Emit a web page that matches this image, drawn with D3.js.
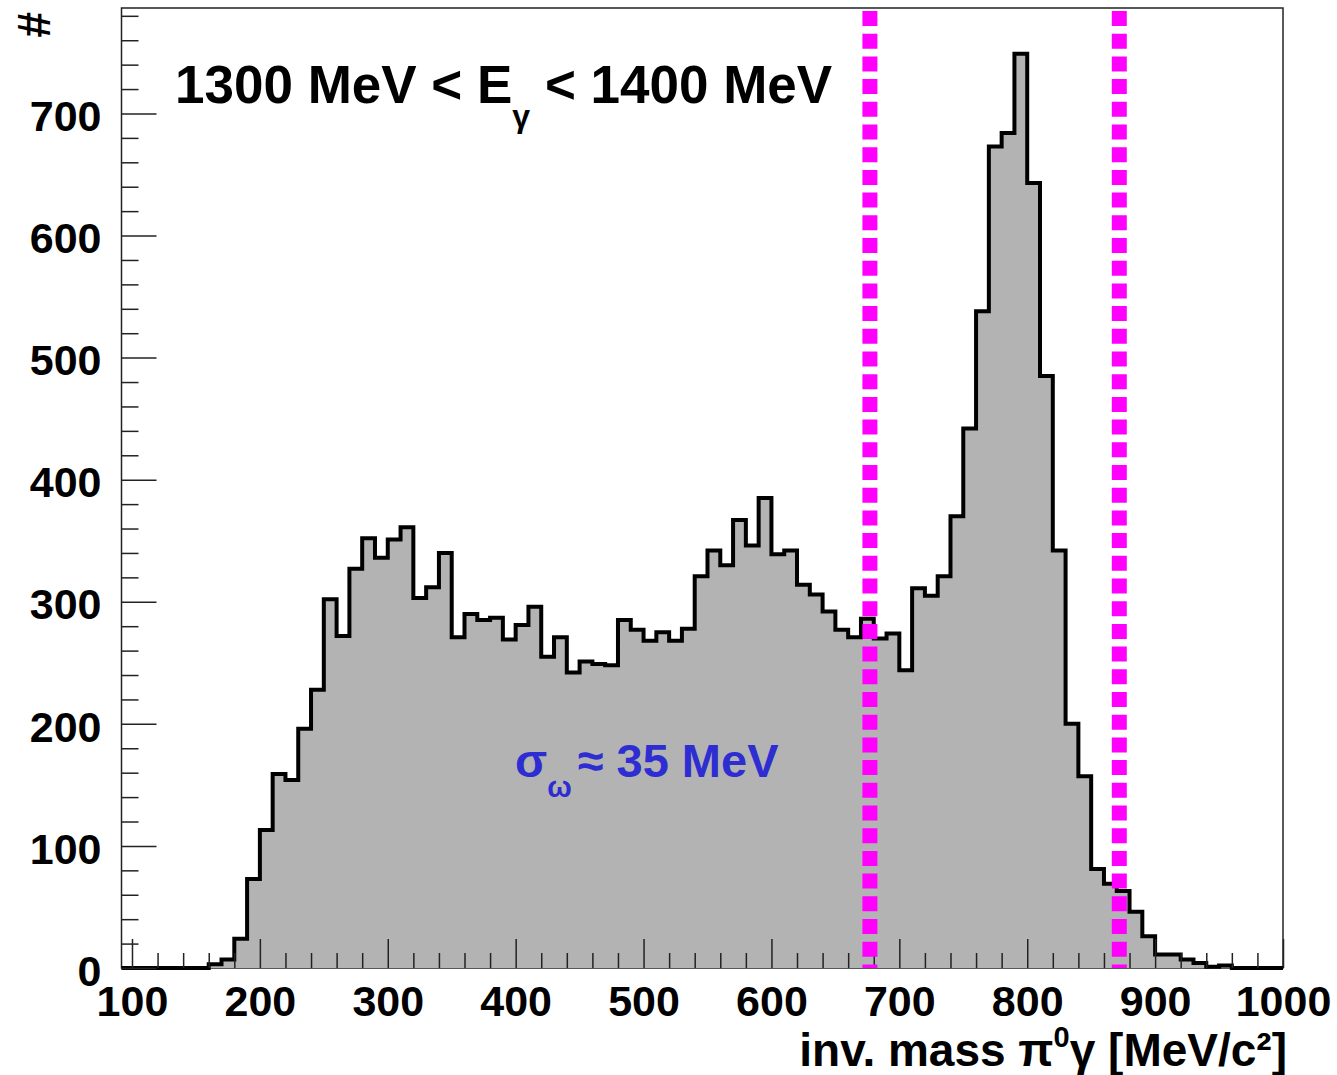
<!DOCTYPE html>
<html>
<head>
<meta charset="utf-8">
<script src="https://cdn.jsdelivr.net/npm/d3@7"></script>
<style>
  body { margin: 0; background: #fff; }
  text { font-family: "Liberation Sans", Arial, sans-serif; font-weight: bold; }
</style>
</head>
<body>
<svg id="chart" width="1337" height="1075"></svg>
<script>
// histogram: 10 MeV bins, first bin starts at 90 MeV
var binStart = 90
var binWidth = 10
var counts = [
  0, 0, 0, 0, 0, 0, 0, 3, 7, 24,            // 90 - 190
  73, 113, 159, 154, 196, 228, 302, 272, 327, 352,   // 190 - 290
  336, 351, 361, 303, 312, 340, 271, 290, 285, 287,  // 290 - 390
  269, 281, 296, 255, 271, 242, 251, 249, 248, 285,  // 390 - 490
  277, 268, 275, 268, 278, 321, 342, 330, 367, 346,  // 490 - 590
  385, 339, 342, 314, 306, 292, 277, 271, 286, 270,  // 590 - 690
  274, 244, 311, 305, 321, 370, 442, 538, 673, 684,  // 690 - 790
  749, 643, 485, 342, 200, 157, 81, 69, 63, 46,      // 790 - 890
  26, 11, 11, 7, 4, 1, 2, 0, 0, 0, 0                 // 890 - 1000
]
var cutLines = [677, 872]   // magenta selection window
var xMajor = [100, 200, 300, 400, 500, 600, 700, 800, 900, 1000]
var yMajor = [0, 100, 200, 300, 400, 500, 600, 700]

var frame = {left: 121.5, right: 1283, top: 8, bottom: 968}

var x = d3.scaleLinear().domain([91.8, 1000]).range([frame.left, frame.right])
var y = d3.scaleLinear().domain([0, 786.4]).range([frame.bottom, frame.top])

var svg = d3.select("#chart")

svg.append("defs").append("clipPath").attr("id", "clip")
  .append("rect")
    .attr("x", frame.left).attr("y", frame.top)
    .attr("width", frame.right - frame.left)
    .attr("height", frame.bottom - frame.top + 3)

svg.append("rect")
    .attr("x", frame.left).attr("y", frame.top)
    .attr("width", frame.right - frame.left)
    .attr("height", frame.bottom - frame.top)
    .attr("fill", "#fff")
    .attr("stroke", "#222")
    .attr("stroke-width", 1.5)

// step outline points
var pts = []
counts.forEach(function(c, i) {
  var lo = binStart + i * binWidth
  pts.push([lo, c], [lo + binWidth, c])
})

var g = svg.append("g").attr("clip-path", "url(#clip)")

g.append("path")
    .datum(pts)
    .attr("fill", "#b3b3b3")
    .attr("d", d3.area().x(d => x(d[0])).y0(y(0)).y1(d => y(d[1])))

// axes (ticks inside the frame)
var yMinor = d3.range(0, 781, 20).filter(v => v % 100 != 0)
var xMinor = d3.range(100, 1001, 20).filter(v => v % 100 != 0)

var yAx = svg.append("g").attr("transform", "translate(" + frame.left + ",0)")
yAx.call(d3.axisLeft(y).tickValues(yMinor).tickSize(-17).tickFormat(""))
yAx.call(g2 => g2.select(".domain").remove())
var yAx2 = svg.append("g").attr("transform", "translate(" + frame.left + ",0)")
yAx2.call(d3.axisLeft(y).tickValues(yMajor).tickSize(-35).tickPadding(20).tickFormat(d3.format("d")))
yAx2.select(".domain").remove()
yAx2.selectAll("text").attr("font-size", 43).attr("fill", "#000").attr("dy", "0.4em")

var xAx = svg.append("g").attr("transform", "translate(0," + frame.bottom + ")")
xAx.call(d3.axisBottom(x).tickValues(xMinor).tickSize(-15).tickFormat(""))
xAx.select(".domain").remove()
var xAx2 = svg.append("g").attr("transform", "translate(0," + frame.bottom + ")")
xAx2.call(d3.axisBottom(x).tickValues(xMajor).tickSize(-29).tickPadding(17).tickFormat(d3.format("d")))
xAx2.select(".domain").remove()
xAx2.selectAll("text").attr("font-size", 43).attr("fill", "#000")

svg.selectAll(".tick line").attr("stroke", "#222").attr("stroke-width", 1.5)

g.append("path")
    .datum(pts)
    .attr("fill", "none")
    .attr("stroke", "#000")
    .attr("stroke-width", 4)
    .attr("stroke-linejoin", "miter")
    .attr("d", d3.line().x(d => x(d[0])).y(d => y(d[1])))

// selection window
svg.selectAll(".cut")
  .data(cutLines)
  .enter().append("line")
    .attr("class", "cut")
    .attr("x1", d => x(d)).attr("x2", d => x(d))
    .attr("y1", frame.top).attr("y2", frame.bottom)
    .attr("stroke", "#ff00ff")
    .attr("stroke-width", 15)
    .attr("stroke-dasharray", "15 7.7")
    .attr("stroke-dashoffset", 19.7)

// texts
var title = svg.append("text").attr("x", 175).attr("y", 103).attr("font-size", 53).attr("fill", "#000")
title.append("tspan").text("1300 MeV < E")
title.append("tspan").attr("font-size", 32).attr("dy", 24).text("γ")
title.append("tspan").attr("dy", -24).text(" < 1400 MeV")

var sig = svg.append("text").attr("x", 515).attr("y", 777).attr("font-size", 47).attr("fill", "#2d2dd2")
sig.append("tspan").text("σ")
sig.append("tspan").attr("font-size", 29).attr("dy", 20).text("ω")
sig.append("tspan").attr("dy", -20).attr("dx", 6).text("≈ 35 MeV")

var xt = svg.append("text").attr("x", 1287).attr("y", 1066).attr("font-size", 46)
    .attr("text-anchor", "end").attr("fill", "#000")
xt.append("tspan").text("inv. mass π")
xt.append("tspan").attr("font-size", 29).attr("dy", -19).text("0")
xt.append("tspan").attr("dy", 19).text("γ [MeV/c²]")

svg.append("text")
    .attr("transform", "translate(50,12) rotate(-90)")
    .attr("text-anchor", "end")
    .attr("font-size", 46)
    .attr("fill", "#000")
    .text("#")
</script>
</body>
</html>
